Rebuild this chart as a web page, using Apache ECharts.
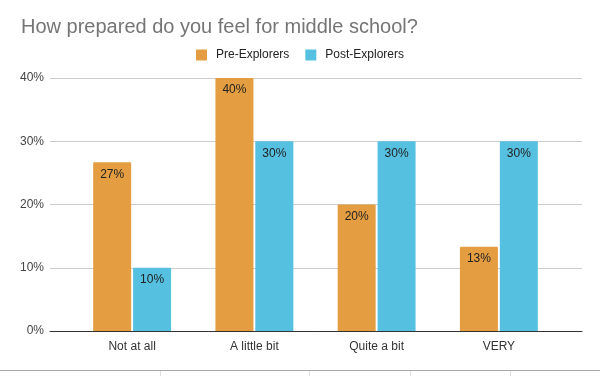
<!DOCTYPE html>
<html>
<head>
<meta charset="utf-8">
<script src="https://cdn.jsdelivr.net/npm/echarts@6/dist/echarts.min.js"></script>
<style>
  html, body { margin: 0; padding: 0; background: #fff; }
  #chart { width: 600px; height: 376px; }
</style>
</head>
<body>
<div id="chart"></div>
<script>
// data
var categories = ['Not at all', 'A little bit', 'Quite a bit', 'VERY'];
var preExplorers = [0.2667, 0.40, 0.20, 0.1333];
var postExplorers = [0.10, 0.30, 0.30, 0.30];
var yTicks = [0, 0.1, 0.2, 0.3, 0.4];

var chart = echarts.init(document.getElementById('chart'));

function pct(v) { return Math.round(v * 100) + '%'; }

var font = 'Liberation Sans, Arial, sans-serif';

chart.setOption({
  animation: false,
  title: {
    text: 'How prepared do you feel for middle school?',
    left: 16,
    top: 12,
    textStyle: { fontSize: 20, fontWeight: 'normal', color: '#757575', fontFamily: font }
  },
  legend: {
    top: 44,
    left: 'center',
    itemWidth: 11,
    itemHeight: 11,
    itemGap: 16,
    icon: 'rect',
    textStyle: { fontSize: 12, color: '#222', fontFamily: font, padding: [0, 0, 0, 4] },
    data: ['Pre-Explorers', 'Post-Explorers']
  },
  // grid 0: full width axes (gridlines + baseline), grid 1: the category bands
  grid: [
    { left: 50, right: 18, top: 78, bottom: 45 },
    { left: 71, right: 40, top: 78, bottom: 45 }
  ],
  xAxis: [
    {
      gridIndex: 0, type: 'value', min: 0, max: 1,
      axisLine: { show: true, lineStyle: { color: '#333', width: 1 } },
      axisTick: { show: false }, axisLabel: { show: false }, splitLine: { show: false }
    },
    {
      gridIndex: 1, type: 'category', data: categories,
      axisLine: { show: false }, axisTick: { show: false },
      axisLabel: { fontSize: 12, color: '#333', margin: 10, fontFamily: font }
    }
  ],
  yAxis: [
    {
      gridIndex: 0, type: 'value', min: yTicks[0], max: yTicks[yTicks.length - 1], interval: 0.1,
      axisLine: { show: false }, axisTick: { show: false },
      axisLabel: { formatter: pct, fontSize: 12, color: '#444', margin: 6, fontFamily: font },
      splitLine: { lineStyle: { color: '#ccc' } }
    },
    {
      gridIndex: 1, type: 'value', min: yTicks[0], max: yTicks[yTicks.length - 1], interval: 0.1,
      show: false, splitLine: { show: false }
    }
  ],
  series: [
    {
      name: 'Pre-Explorers', type: 'bar', xAxisIndex: 1, yAxisIndex: 1,
      data: preExplorers, barWidth: 38, barGap: '5%',
      itemStyle: { color: '#E49E41', borderRadius: [1, 1, 0, 0] },
      label: {
        show: true, position: 'insideTop', distance: 6, formatter: function (p) { return pct(p.value); },
        fontSize: 12, color: '#222', fontFamily: font
      }
    },
    {
      name: 'Post-Explorers', type: 'bar', xAxisIndex: 1, yAxisIndex: 1,
      data: postExplorers, barWidth: 38, barGap: '5%',
      itemStyle: { color: '#55C0E0', borderRadius: [1, 1, 0, 0] },
      label: {
        show: true, position: 'insideTop', distance: 6, formatter: function (p) { return pct(p.value); },
        fontSize: 12, color: '#222', fontFamily: font
      }
    }
  ],
  // the sheet border along the bottom edge
  graphic: [
    { type: 'line', shape: { x1: 0, y1: 370.5, x2: 600, y2: 370.5 }, style: { stroke: '#aaa', lineWidth: 1 } },
    { type: 'line', shape: { x1: 160.5, y1: 371, x2: 160.5, y2: 376 }, style: { stroke: '#ddd', lineWidth: 1 } },
    { type: 'line', shape: { x1: 309.5, y1: 371, x2: 309.5, y2: 376 }, style: { stroke: '#ddd', lineWidth: 1 } },
    { type: 'line', shape: { x1: 410.5, y1: 371, x2: 410.5, y2: 376 }, style: { stroke: '#ddd', lineWidth: 1 } },
    { type: 'line', shape: { x1: 510.5, y1: 371, x2: 510.5, y2: 376 }, style: { stroke: '#ddd', lineWidth: 1 } }
  ]
});
</script>
</body>
</html>
